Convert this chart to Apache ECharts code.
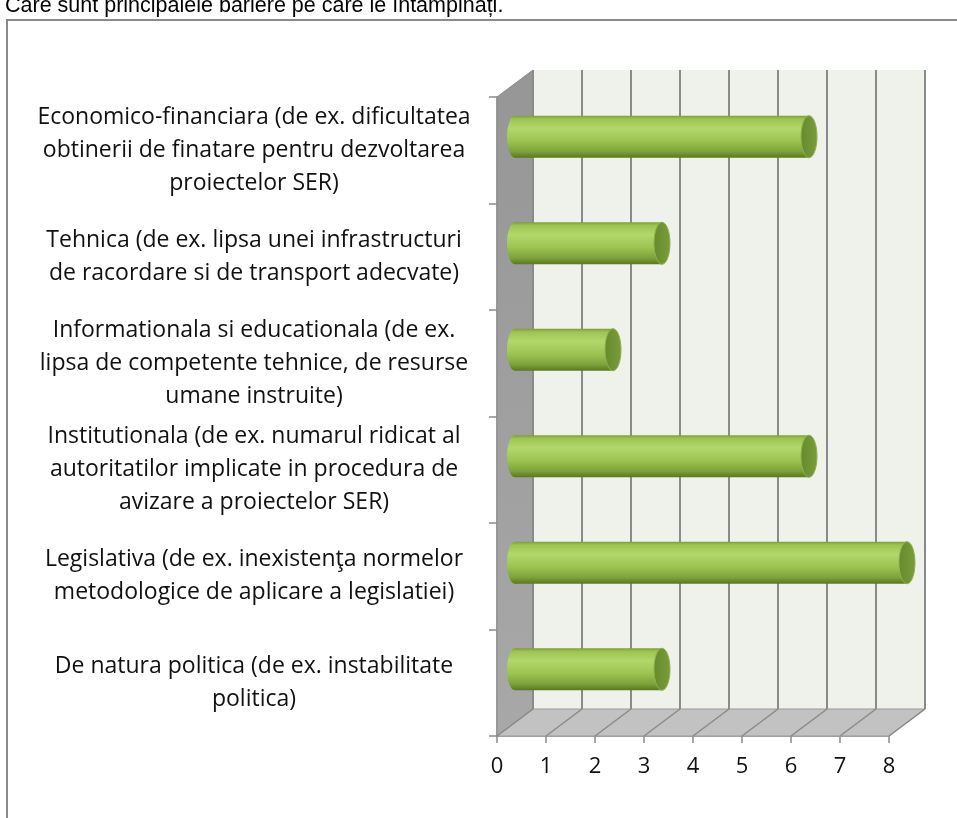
<!DOCTYPE html>
<html><head><meta charset="utf-8">
<script src="https://cdn.jsdelivr.net/npm/echarts@6/dist/echarts.min.js"></script>
<style>html,body{margin:0;padding:0;background:#fff}#c{width:957px;height:818px}</style>
</head><body><div id="c"></div>
<script>
const titleText = 'Care sunt principalele bariere pe care le întâmpinați.';
const categories = [
  'De natura politica (de ex. instabilitate\npolitica)',
  'Legislativa (de ex. inexistenţa normelor\nmetodologice de aplicare a legislatiei)',
  'Institutionala (de ex. numarul ridicat al\nautoritatilor implicate in procedura de\navizare a proiectelor SER)',
  'Informationala si educationala (de ex.\nlipsa de competente tehnice, de resurse\numane instruite)',
  'Tehnica (de ex. lipsa unei infrastructuri\nde racordare si de transport adecvate)',
  'Economico-financiara (de ex. dificultatea\nobtinerii de finatare pentru dezvoltarea\nproiectelor SER)'
];
const values = [3, 8, 6, 2, 3, 6];
const xTicks = [0, 1, 2, 3, 4, 5, 6, 7, 8];

const DX = 36, DY = -27, BAR_DEPTH = 0.5;

function renderWalls(params, api) {
  const cs = params.coordSys;
  const x0 = cs.x, y0 = cs.y, x1 = cs.x + cs.width, y1 = cs.y + cs.height;
  const ch = [];
  ch.push({type: 'rect', shape: {x: x0 + DX, y: y0 + DY, width: cs.width, height: cs.height},
    style: {fill: '#eef2ea'}});
  ch.push({type: 'polygon', shape: {points: [[x0, y0], [x0 + DX, y0 + DY], [x0 + DX, y1 + DY], [x0, y1]]},
    style: {fill: new echarts.graphic.LinearGradient(0, 0, 0, 1, [
      {offset: 0, color: '#969696'}, {offset: 1, color: '#a8a8a8'}]), stroke: '#8a8a8a', lineWidth: 1}});
  ch.push({type: 'polygon', shape: {points: [[x0, y1], [x0 + DX, y1 + DY], [x1 + DX, y1 + DY], [x1, y1]]},
    style: {fill: '#c2c2c2', stroke: '#9a9a9a', lineWidth: 1}});
  xTicks.forEach(function (v) {
    const px = api.coord([v, 0])[0];
    ch.push({type: 'line', shape: {x1: px + DX, y1: y0 + DY, x2: px + DX, y2: y1 + DY},
      style: {stroke: '#8a8a8a', lineWidth: 2}});
    ch.push({type: 'line', shape: {x1: px, y1: y1, x2: px + DX, y2: y1 + DY},
      style: {stroke: '#8a8a8a', lineWidth: 1.5}});
  });
  return {type: 'group', children: ch};
}

function renderBar(params, api) {
  const v = api.value(0), c = api.value(1);
  const p0 = api.coord([0, c]);
  const p1 = api.coord([v, c]);
  const bandH = api.size([0, 1])[1];
  const h = bandH * 0.395;
  const xa = p0[0] + DX * BAR_DEPTH, xb = p1[0] + DX * BAR_DEPTH;
  const yc = p0[1] + DY * BAR_DEPTH;
  const rx = 8, ry = h / 2;
  const body = new echarts.graphic.LinearGradient(0, 0, 0, 1, [
    {offset: 0, color: '#7e9e3a'}, {offset: 0.08, color: '#9ec552'},
    {offset: 0.3, color: '#b2d76c'}, {offset: 0.6, color: '#9cc451'},
    {offset: 0.85, color: '#7da23a'}, {offset: 1, color: '#587820'}]);
  const cap = new echarts.graphic.LinearGradient(0, 0, 1, 0, [
    {offset: 0, color: '#668a2c'}, {offset: 1, color: '#7a9c3c'}]);
  return {type: 'group', children: [
    {type: 'ellipse', shape: {cx: xa, cy: yc, rx: rx, ry: ry}, style: {fill: body}},
    {type: 'rect', shape: {x: xa, y: yc - ry, width: xb - xa, height: h}, style: {fill: body}},
    {type: 'ellipse', shape: {cx: xb, cy: yc, rx: rx, ry: ry}, style: {fill: cap, stroke: '#8fb24a', lineWidth: 1}}
  ]};
}

const chart = echarts.init(document.getElementById('c'), null, {renderer: 'canvas'});
chart.setOption({
  backgroundColor: '#ffffff',
  animation: false,
  title: {text: titleText, left: 0, top: -10,
    textStyle: {fontFamily: 'Liberation Sans', fontSize: 21.5, fontWeight: 'normal', color: '#000'}},
  graphic: [{type: 'rect', shape: {x: 7, y: 20, width: 1000, height: 900},
    style: {fill: 'none', stroke: '#8a8a8a', lineWidth: 2}, z: -1}],
  grid: {left: 497, top: 97, width: 392, height: 639},
  xAxis: {type: 'value', min: 0, max: 8, interval: 1,
    axisLine: {show: true, lineStyle: {color: '#8a8a8a', width: 1.5}},
    axisTick: {show: true, length: 7, lineStyle: {color: '#8a8a8a', width: 1.5}},
    splitLine: {show: false},
    axisLabel: {margin: 20, fontFamily: 'Open Sans', fontSize: 22, color: '#111'}},
  yAxis: {type: 'category', data: categories, boundaryGap: true,
    axisLine: {show: true, lineStyle: {color: '#8a8a8a', width: 1.5}},
    axisTick: {show: true, length: 8, lineStyle: {color: '#8a8a8a', width: 1.5}},
    axisLabel: {align: 'center', margin: 243, fontFamily: 'Open Sans', fontSize: 23, lineHeight: 33, color: '#111', interval: 0}},
  series: [
    {type: 'custom', renderItem: renderWalls, data: [[0, 0]], silent: true, z: 1, clip: false},
    {type: 'custom', renderItem: renderBar, data: values.map(function (v, i) { return [v, i]; }), z: 3, clip: false}
  ]
});
</script></body></html>
